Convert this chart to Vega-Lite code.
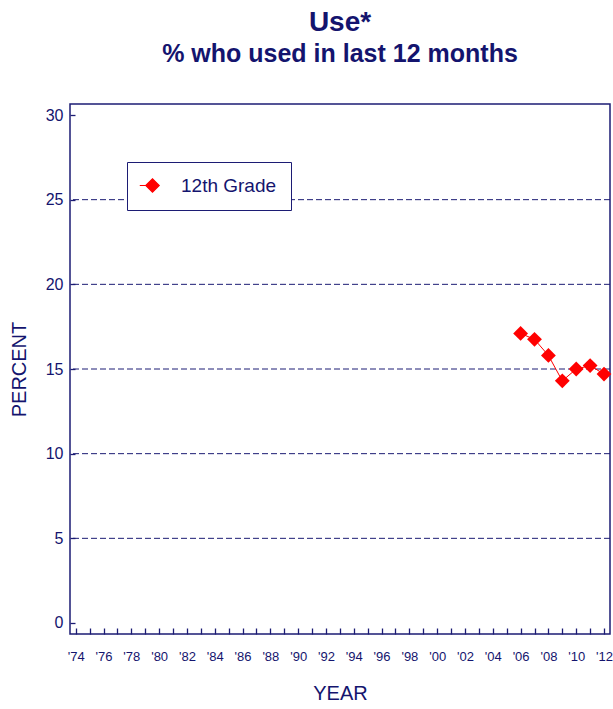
{
  "$schema": "https://vega.github.io/schema/vega-lite/v6.json",
  "autosize": {"type": "none"},
  "width": 540,
  "height": 530,
  "padding": {"left": 70, "top": 104, "right": 3, "bottom": 75},
  "background": "white",
  "title": {
    "text": "Use*",
    "subtitle": "% who used in last 12 months",
    "anchor": "middle",
    "font": "Liberation Sans",
    "fontSize": 28,
    "fontWeight": "bold",
    "color": "#14146e",
    "subtitleFont": "Liberation Sans",
    "subtitleFontSize": 25,
    "subtitleFontWeight": "bold",
    "subtitleColor": "#14146e",
    "subtitlePadding": 5,
    "offset": 37
  },
  "datasets": {
    "series": [
      {"year": 2006, "pct": 17.1, "grade": "12th Grade"},
      {"year": 2007, "pct": 16.75, "grade": "12th Grade"},
      {"year": 2008, "pct": 15.8, "grade": "12th Grade"},
      {"year": 2009, "pct": 14.3, "grade": "12th Grade"},
      {"year": 2010, "pct": 15.0, "grade": "12th Grade"},
      {"year": 2011, "pct": 15.2, "grade": "12th Grade"},
      {"year": 2012, "pct": 14.7, "grade": "12th Grade"}
    ],
    "grid": [{"g": 5}, {"g": 10}, {"g": 15}, {"g": 20}, {"g": 25}]
  },
  "config": {
    "view": {"stroke": "#1c1c74", "strokeWidth": 1.5},
    "axis": {
      "domain": false,
      "grid": false,
      "ticks": true,
      "labelFont": "Liberation Sans",
      "titleFont": "Liberation Sans",
      "labelColor": "#14146e",
      "titleColor": "#14146e",
      "tickColor": "#1c1c74",
      "tickWidth": 1.3,
      "titleFontWeight": "normal",
      "titleFontSize": 20
    }
  },
  "layer": [
    {
      "data": {"name": "grid"},
      "mark": {"type": "rule", "color": "#1c1c74", "strokeWidth": 1, "strokeDash": [6, 3]},
      "encoding": {
        "y": {"field": "g", "type": "quantitative", "scale": {"domain": [-0.65, 30.65], "nice": false, "zero": false}}
      }
    },
    {
      "data": {"name": "series"},
      "mark": {"type": "line", "color": "#ff0000", "strokeWidth": 1},
      "encoding": {
        "x": {"field": "year", "type": "quantitative"},
        "y": {"field": "pct", "type": "quantitative"}
      }
    },
    {
      "data": {"name": "series"},
      "mark": {"type": "point", "shape": "diamond", "filled": true, "size": 220, "opacity": 1},
      "encoding": {
        "x": {
          "field": "year",
          "type": "quantitative",
          "scale": {"domain": [1973.59, 2012.43], "nice": false, "zero": false},
          "axis": {
            "title": "YEAR",
            "values": [1974,1975,1976,1977,1978,1979,1980,1981,1982,1983,1984,1985,1986,1987,1988,1989,1990,1991,1992,1993,1994,1995,1996,1997,1998,1999,2000,2001,2002,2003,2004,2005,2006,2007,2008,2009,2010,2011,2012],
            "tickCount": 200,
            "labelExpr": "datum.value % 2 === 0 ? \"'\" + substring(toString(datum.value), 2) : ''",
            "labelFontSize": 13,
            "labelOverlap": false,
            "tickSize": -6,
            "labelPadding": 22,
            "titlePadding": 20
          }
        },
        "y": {
          "field": "pct",
          "type": "quantitative",
          "scale": {"domain": [-0.65, 30.65], "nice": false, "zero": false},
          "axis": {
            "title": "PERCENT",
            "values": [0, 5, 10, 15, 20, 25, 30],
            "tickCount": 200,
            "format": "d",
            "labelFontSize": 16,
            "tickSize": -5,
            "labelPadding": 12,
            "titlePadding": 16
          }
        },
        "color": {
          "field": "grade",
          "type": "nominal",
          "scale": {"domain": ["12th Grade"], "range": ["#ff0000"]},
          "legend": {
            "title": null,
            "orient": "none",
            "legendX": 57,
            "legendY": 58,
            "padding": 14,
            "strokeColor": "#1c1c74",
            "fillColor": "white",
            "symbolType": "M-1,0L0,-1L1,0L0,1ZM-1,0L-1.9,0",
            "symbolSize": 180,
            "symbolStrokeColor": "#ff0000",
            "symbolFillColor": "#ff0000",
            "symbolStrokeWidth": 1.2,
            "symbolOffset": 2,
            "labelOffset": 19,
            "labelFont": "Liberation Sans",
            "labelFontSize": 19,
            "labelColor": "#14146e"
          }
        }
      }
    }
  ]
}
